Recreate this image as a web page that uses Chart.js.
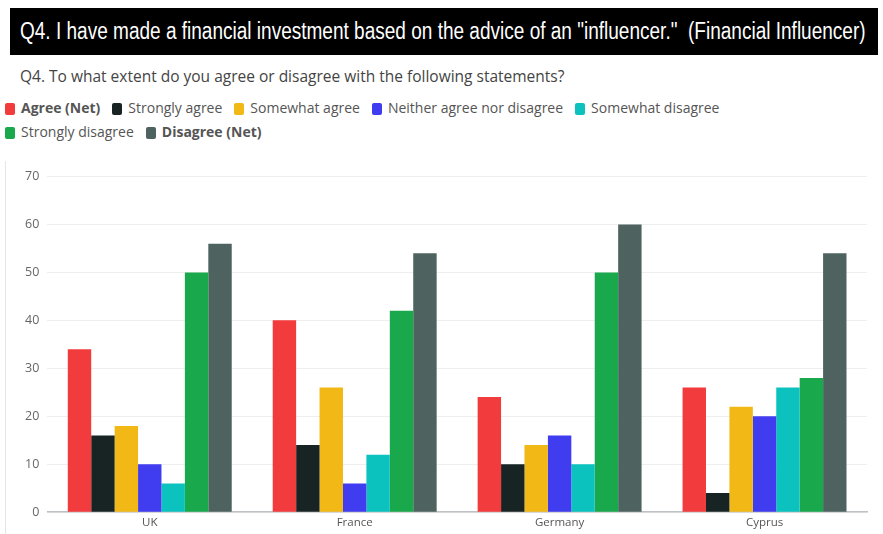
<!DOCTYPE html>
<html>
<head>
<meta charset="utf-8">
<script src="https://cdn.jsdelivr.net/npm/chart.js@4"></script>
<style>
  body { margin: 0; background: #fff; width: 883px; height: 534px; overflow: hidden; font-family: "Open Sans", sans-serif; }
  #head { position: absolute; left: 10px; top: 8px; width: 868px; height: 47px; background: #000; color: #fff;
          font-family: "Liberation Sans", Arial, sans-serif; font-size: 23px; line-height: 47px;
          white-space: nowrap; overflow: hidden; }
  #head span { display: inline-block; margin-left: 10px; transform-origin: 0 50%; }
  #sub { position: absolute; left: 20px; top: 65px; font-size: 15.5px; color: #444; }
  #legend { position: absolute; left: 5px; top: 97px; width: 800px; font-size: 14px; color: #555; }
  #legend div { display: inline-block; margin-right: 12px; height: 24px; line-height: 22px; white-space: nowrap; }
  #legend i { display: inline-block; width: 10px; height: 12px; border-radius: 2px; margin-right: 6px; vertical-align: -2px; }
  #wrap { position: absolute; left: 5px; top: 161px; width: 878px; height: 373px; border-left: 1px solid #e3e5e8; }
</style>
</head>
<body>
<div id="head"><span id="headText">Q4. I have made a financial investment based on the advice of an "influencer."&nbsp; (Financial Influencer)</span></div>
<div id="sub">Q4. To what extent do you agree or disagree with the following statements?</div>
<div id="legend"></div>
<div id="wrap"><canvas id="bar-chart"></canvas></div>
<script>
const countries = ['UK', 'France', 'Germany', 'Cyprus'];
const seriesNames = ['Agree (Net)', 'Strongly agree', 'Somewhat agree', 'Neither agree nor disagree',
                     'Somewhat disagree', 'Strongly disagree', 'Disagree (Net)'];
const agreeNet        = [34, 40, 24, 26];
const stronglyAgree   = [16, 14, 10, 4];
const somewhatAgree   = [18, 26, 14, 22];
const neither         = [10, 6, 16, 20];
const somewhatDisagr  = [6, 12, 10, 26];
const stronglyDisagr  = [50, 42, 50, 28];
const disagreeNet     = [56, 54, 60, 54];
const yTicks = [0, 10, 20, 30, 40, 50, 60, 70];

const values = [agreeNet, stronglyAgree, somewhatAgree, neither, somewhatDisagr, stronglyDisagr, disagreeNet];
const colors = ['#f23b3d', '#182424', '#f2b816', '#403cf0', '#0cc2bf', '#1aa84d', '#4e6360'];
const boldNames = ['Agree (Net)', 'Disagree (Net)'];

const datasets = seriesNames.map(function (name, i) {
  return {
    label: name,
    data: values[i],
    backgroundColor: colors[i],
    borderWidth: 0,
    categoryPercentage: 0.8,
    barPercentage: 1.0
  };
});

// squeeze the heading into a narrow look
const head = document.getElementById('headText');
head.style.transform = 'scaleX(' + (846 / head.offsetWidth) + ')';

// legend in html so the net rows can be bold
const leg = document.getElementById('legend');
datasets.forEach(function (ds) {
  if (ds.label === 'Strongly disagree') leg.appendChild(document.createElement('br'));
  const d = document.createElement('div');
  d.innerHTML = '<i style="background:' + ds.backgroundColor + '"></i>' + ds.label;
  if (boldNames.includes(ds.label)) d.style.fontWeight = '700';
  leg.appendChild(d);
});

const config = {
  type: 'bar',
  data: { labels: countries, datasets: datasets },
  options: {
    responsive: true,
    maintainAspectRatio: false,
    animation: false,
    layout: { padding: { top: 12, right: 17, bottom: 0, left: 11 } },
    plugins: { legend: { display: false }, tooltip: { enabled: false } },
    scales: {
      x: {
        grid: { display: false, drawTicks: false },
        border: { color: '#bfc2c4', width: 1.5 },
        ticks: { color: '#555', padding: 4, font: { family: 'Open Sans', size: 11.5 } }
      },
      y: {
        min: 0, max: 70,
        afterBuildTicks: function (axis) { axis.ticks = yTicks.map(v => ({ value: v })); },
        grid: { color: '#eeeeee', drawTicks: false },
        border: { display: false },
        ticks: { color: '#666', padding: 8, font: { family: 'Open Sans', size: 12.5 } }
      }
    }
  }
};

window.onload = function () {
  var ctx = document.getElementById('bar-chart').getContext('2d');
  window.myBar = new Chart(ctx, config);
};
</script>
</body>
</html>
